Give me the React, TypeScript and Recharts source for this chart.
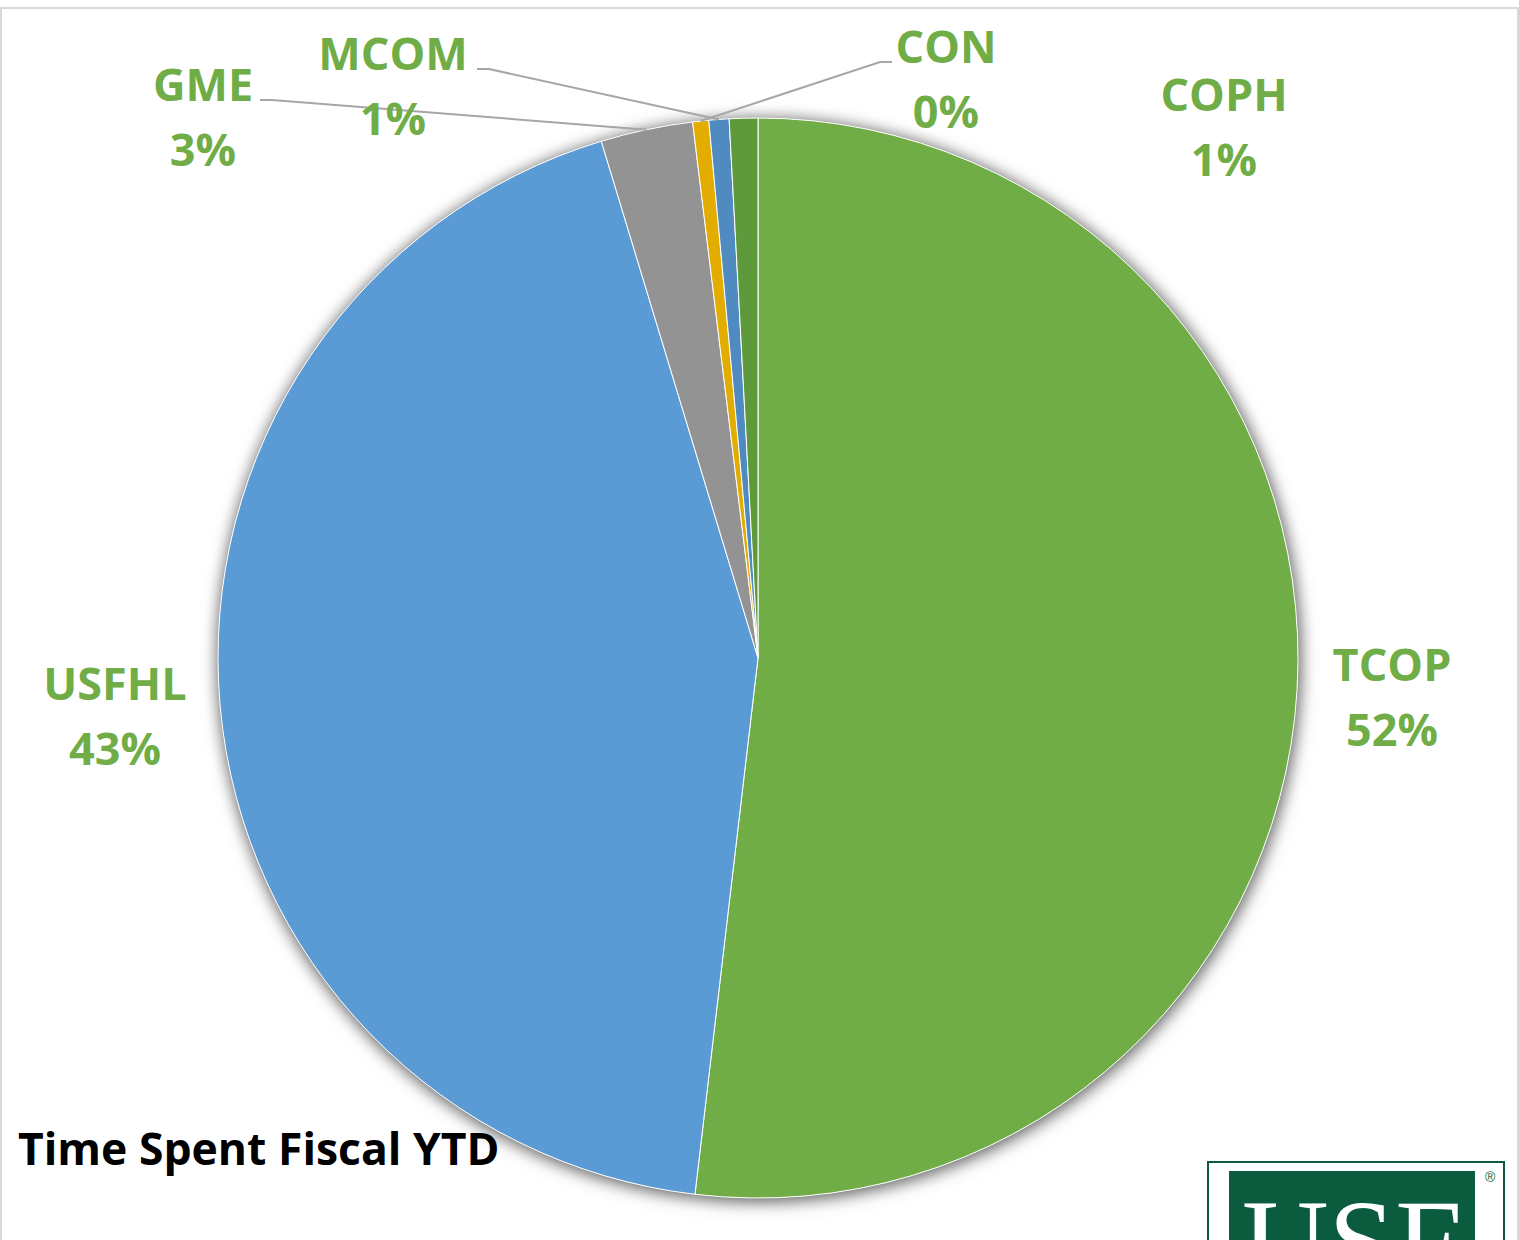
import React from 'react';
import { PieChart, Pie, Cell } from 'recharts';

const units = ['TCOP', 'USFHL', 'GME', 'CON', 'MCOM', 'COPH'];
const shares = [51.8, 43.4, 2.75, 0.48, 0.6, 0.85];
const colors = ['#70AD47', '#5B9BD5', '#939393', '#E2AC00', '#4F8AC0', '#5E9A3C'];

const data = units.map((name, i) => ({ name, value: shares[i] }));

// label position relative to the pie centre (dx = text centre, dy = first baseline);
// lineDx: where the leader line leaves the text, relative to the text centre
const labelLayout: Record<string, { dx: number; dy: number; lineDx?: number }> = {
  TCOP: { dx: 634, dy: 23 },
  USFHL: { dx: -643, dy: 42 },
  GME: { dx: -555, dy: -557, lineDx: 57 },
  MCOM: { dx: -365, dy: -588, lineDx: 84 },
  CON: { dx: 188, dy: -595, lineDx: -54 },
  COPH: { dx: 466, dy: -547 },
};

const RAD = Math.PI / 180;
const LABEL_GREEN = '#70AD47';
const FONT = '"Open Sans", sans-serif';
const FS = 45;

const renderLabel = (p: any) => {
  const { cx, cy, midAngle, outerRadius, percent, name } = p;
  const lay = labelLayout[name];
  if (!lay) return null;
  const lx = cx + lay.dx;
  const ly = cy + lay.dy;
  const pct = Math.round(percent * 100) + '%';
  let line = null;
  if (lay.lineDx !== undefined) {
    const ex = cx + outerRadius * Math.cos(-midAngle * RAD);
    const ey = cy + outerRadius * Math.sin(-midAngle * RAD);
    const sx = lx + lay.lineDx;
    const kx = sx + (lay.lineDx > 0 ? 12 : -12);
    const sy = ly - 1;
    line = (
      <polyline
        points={`${sx},${sy} ${kx},${sy} ${ex},${ey}`}
        fill="none"
        stroke="#A6A6A6"
        strokeWidth={2}
      />
    );
  }
  return (
    <g key={name}>
      {line}
      <text x={lx} y={ly} textAnchor="middle" fill={LABEL_GREEN} fontSize={FS} fontWeight={700} fontFamily={FONT}>
        {name}
      </text>
      <text x={lx} y={ly + 65} textAnchor="middle" fill={LABEL_GREEN} fontSize={FS} fontWeight={700} fontFamily={FONT}>
        {pct}
      </text>
    </g>
  );
};

const App: React.FC = () => {
  return (
    <div
      style={{
        position: 'absolute',
        left: 0,
        top: 0,
        width: 1519,
        height: 1240,
        overflow: 'hidden',
        background: '#fff',
      }}
    >
      <style>{'.pie-shadow { filter: drop-shadow(1px 2px 8px rgba(0,0,0,0.4)); }'}</style>
      <div
        style={{
          position: 'absolute',
          left: 0,
          top: 7,
          width: 1515,
          height: 1300,
          border: '2px solid #D9D9D9',
        }}
      />
      <div style={{ position: 'absolute', left: 0, top: 0 }}>
        <PieChart width={1519} height={1240} margin={{ top: 0, right: 0, bottom: 0, left: 0 }}>
          <Pie
            className="pie-shadow"
            data={data}
            dataKey="value"
            nameKey="name"
            cx={758}
            cy={658}
            outerRadius={540}
            startAngle={90}
            endAngle={-270}
            fill="#fff"
            stroke="none"
            isAnimationActive={false}
          />
          <Pie
            data={data}
            dataKey="value"
            nameKey="name"
            cx={758}
            cy={658}
            outerRadius={540}
            startAngle={90}
            endAngle={-270}
            stroke="#fff"
            strokeWidth={1}
            label={renderLabel}
            labelLine={false}
            isAnimationActive={false}
          >
            {data.map((d, i) => (
              <Cell key={d.name} fill={colors[i]} />
            ))}
          </Pie>
        </PieChart>
      </div>
      <div
        style={{
          position: 'absolute',
          left: 18,
          top: 1118,
          fontFamily: FONT,
          fontWeight: 700,
          fontSize: 44.5,
          color: '#000',
          whiteSpace: 'nowrap',
          lineHeight: '60px',
        }}
      >
        Time Spent Fiscal YTD
      </div>
      <div
        style={{
          position: 'absolute',
          left: 1207,
          top: 1161,
          width: 294,
          height: 120,
          border: '2px solid #0B5B3E',
          background: '#fff',
        }}
      >
        <div
          style={{
            position: 'absolute',
            left: 20,
            top: 8,
            width: 246,
            height: 120,
            background: '#0B5B3E',
            color: '#fff',
            fontFamily: '"Liberation Serif", serif',
            fontSize: 120,
            lineHeight: '120px',
            textAlign: 'center',
            overflow: 'hidden',
          }}
        >
          <div style={{ marginTop: 12 }}>USF</div>
        </div>
        <div
          style={{
            position: 'absolute',
            left: 276,
            top: 6,
            fontSize: 14,
            fontFamily: 'Arial, sans-serif',
            color: '#0B5B3E',
          }}
        >
          ®
        </div>
      </div>
    </div>
  );
};

export default App;
